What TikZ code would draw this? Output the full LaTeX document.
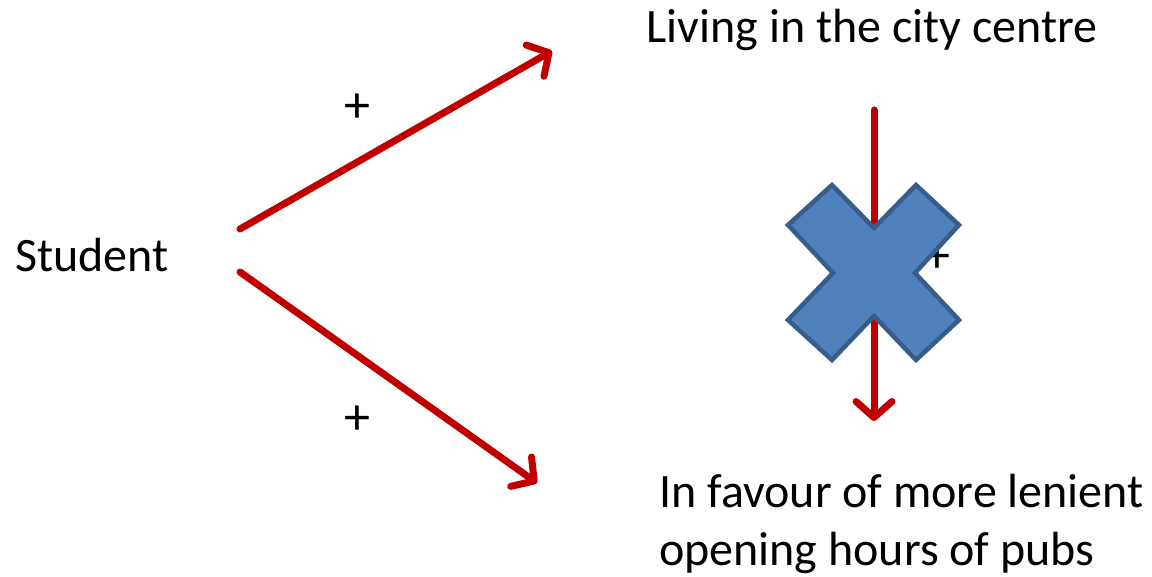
\documentclass[tikz,border=0pt]{standalone}
\usepackage{fontspec}
\setmainfont{Carlito}
\usetikzlibrary{arrows.meta}
\definecolor{arrowred}{HTML}{C00000}
\definecolor{xfill}{HTML}{4F81BD}
\definecolor{xborder}{HTML}{385D8A}
\tikzset{
  lbl/.style={inner sep=0pt, font=\fontsize{48}{58}\selectfont},
  plus/.style={inner sep=0pt, font=\fontsize{52}{60}\selectfont},
  redarrow/.style={draw=arrowred, line width=7pt, line cap=round,
    -{Straight Barb[length=16pt, width=36pt, line width=7pt, round]}},
  cross/.style={fill=xfill, draw=xborder, line width=4.5pt, line join=miter}
}
\begin{document}
\begin{tikzpicture}[x=1pt, y=-1pt]
\useasboundingbox (0,0) rectangle (1152,577);
\node[lbl] (student) at (92,255) {Student};
\node[lbl] (city) at (872,30) {Living in the city centre};
\node[lbl, align=left, anchor=north west] (pubs) at (659,474) {In favour of more lenient\\opening hours of pubs};
\coordinate (s1) at (240,229);
\coordinate (e1) at (552,51);
\coordinate (s2) at (240,272);
\coordinate (e2) at (537,483);
\coordinate (s3) at (874,110);
\coordinate (e3) at (874,421);
\draw[redarrow] (s1) -- (e1);
\draw[redarrow] (s2) -- (e2);
\draw[redarrow] (s3) -- (e3);
\node[plus] (p1) at (357,108) {+};
\node[plus] (p2) at (357,420) {+};
\node[plus] (p3) at (937,258) {+};
\draw[cross] (788,225) -- (832,185) -- (874,228) -- (916,185) -- (959,225)
  -- (915,273) -- (959,320) -- (916,360) -- (874,316) -- (832,360)
  -- (788,320) -- (833,273) -- cycle;
\end{tikzpicture}
\end{document}
